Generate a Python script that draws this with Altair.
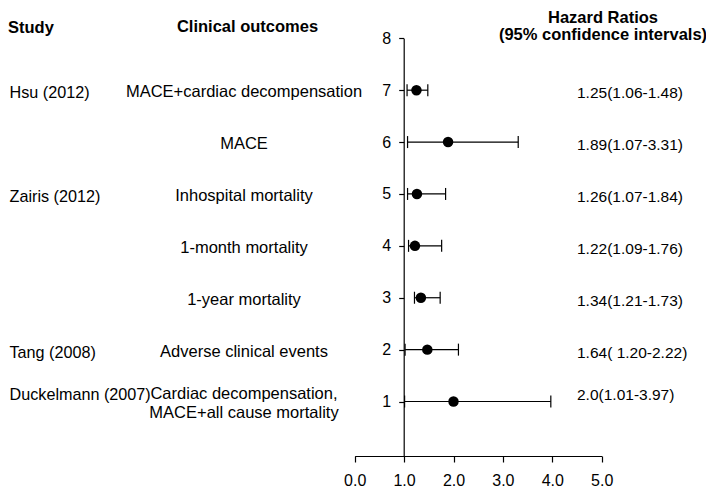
import altair as alt
import pandas as pd

# ---- data ----
rows = [7, 6, 5, 4, 3, 2, 1]
studies = ["Hsu (2012)", "", "Zairis (2012)", "", "", "Tang (2008)", "Duckelmann (2007)"]
outcomes = [
    "MACE+cardiac decompensation",
    "MACE",
    "Inhospital mortality",
    "1-month mortality",
    "1-year mortality",
    "Adverse clinical events",
    "Cardiac decompensation,\nMACE+all cause mortality",
]
hr_point = [1.25, 1.89, 1.26, 1.22, 1.34, 1.47, 2.0]
ci_low = [1.06, 1.07, 1.07, 1.09, 1.21, 1.02, 1.01]
ci_high = [1.48, 3.31, 1.84, 1.76, 1.73, 2.10, 3.97]
hr_labels = [
    "1.25(1.06-1.48)",
    "1.89(1.07-3.31)",
    "1.26(1.07-1.84)",
    "1.22(1.09-1.76)",
    "1.34(1.21-1.73)",
    "1.64( 1.20-2.22)",
    "2.0(1.01-3.97)",
]
x_ticks = [0, 1, 2, 3, 4, 5]
y_ticks = [1, 2, 3, 4, 5, 6, 7, 8]
header_study = ["Study"]
header_outcome = ["Clinical outcomes"]
header_hr = ["Hazard Ratios\n(95% confidence intervals)"]

df = pd.DataFrame({
    "row": rows, "study": studies, "outcome": outcomes,
    "hr": hr_point, "lo": ci_low, "hi": ci_high, "label": hr_labels,
})

FONT = "Liberation Sans, Arial, sans-serif"

xs = alt.Scale(domain=[0, 5], range=[346.7, 593.7], nice=False, zero=False)
ys = alt.Scale(domain=[-0.05, 8], range=[448, 30.3], nice=False, zero=False)

x_axis = alt.Axis(values=x_ticks, format=".1f", grid=False, tickSize=6, tickWidth=1.2,
                  tickColor="black", domainColor="black", domainWidth=1.2,
                  labelColor="black", labelFont=FONT, labelFontSize=16, labelPadding=10,
                  labelFlush=False, labelOverlap=False, title=None)
y_axis = alt.Axis(values=y_ticks, format="d", grid=False, tickSize=5, tickWidth=1.2,
                  tickColor="black", domainColor="black", domainWidth=1.2,
                  labelColor="black", labelFont=FONT, labelFontSize=16, labelPadding=8,
                  labelFlush=False, labelOverlap=False, offset=-395.7, title=None)

base = alt.Chart(df)

whiskers = base.mark_rule(color="black", strokeWidth=1.2).encode(
    x=alt.X("lo:Q", scale=xs, axis=x_axis),
    x2="hi:Q",
    y=alt.Y("row:Q", scale=ys, axis=y_axis),
)
cap_lo = base.mark_tick(orient="vertical", size=12, thickness=1.2, color="black", opacity=1).encode(
    x=alt.X("lo:Q", scale=xs), y=alt.Y("row:Q", scale=ys))
cap_hi = base.mark_tick(orient="vertical", size=12, thickness=1.2, color="black", opacity=1).encode(
    x=alt.X("hi:Q", scale=xs), y=alt.Y("row:Q", scale=ys))
points = base.mark_circle(size=110, color="black", opacity=1).encode(
    x=alt.X("hr:Q", scale=xs), y=alt.Y("row:Q", scale=ys))

# multi-line rows: text block centred on the row (first line raised by half a line)
text_base = base.transform_calculate(
    ty="datum.row + (length(split(datum.outcome, '\\n')) - 1) * 0.1828"
)

study_text = text_base.mark_text(align="left", baseline="middle", font=FONT, fontSize=16.2,
                                 lineBreak="\n", lineHeight=19, color="black", dy=3).encode(
    x=alt.value(1.5), y=alt.Y("ty:Q", scale=ys), text="study:N")
outcome_text = text_base.mark_text(align="center", baseline="middle", font=FONT, fontSize=16.5,
                                   lineBreak="\n", lineHeight=19, color="black", dy=2).encode(
    x=alt.value(236), y=alt.Y("ty:Q", scale=ys), text="outcome:N")
hr_text = text_base.mark_text(align="left", baseline="middle", font=FONT, fontSize=15.5,
                              lineBreak="\n", lineHeight=19, color="black", dy=3).encode(
    x=alt.value(569), y=alt.Y("ty:Q", scale=ys), text="label:N")

h1 = alt.Chart(pd.DataFrame({"t": header_study})).mark_text(
    align="left", baseline="middle", font=FONT, fontSize=16.5, fontWeight="bold", color="black"
).encode(x=alt.value(0), y=alt.value(19.5), text="t:N")
h2 = alt.Chart(pd.DataFrame({"t": header_outcome})).mark_text(
    align="center", baseline="middle", font=FONT, fontSize=16.5, fontWeight="bold", color="black"
).encode(x=alt.value(239.5), y=alt.value(19), text="t:N")
h3 = alt.Chart(pd.DataFrame({"t": header_hr})).mark_text(
    align="center", baseline="middle", font=FONT, fontSize=16.5, fontWeight="bold", color="black",
    lineBreak="\n", lineHeight=17
).encode(x=alt.value(595), y=alt.value(9.5), text="t:N")

chart = alt.layer(
    whiskers, cap_lo, cap_hi, points, study_text, outcome_text, hr_text, h1, h2, h3
).properties(
    width=698, height=448,
    autosize=alt.AutoSizeParams(type="none"),
    padding={"left": 0, "top": 0, "right": 0, "bottom": 36},
    background="white",
).configure_view(strokeWidth=0)

chart.save("out.html", embed_options={"renderer": "svg", "actions": False})
